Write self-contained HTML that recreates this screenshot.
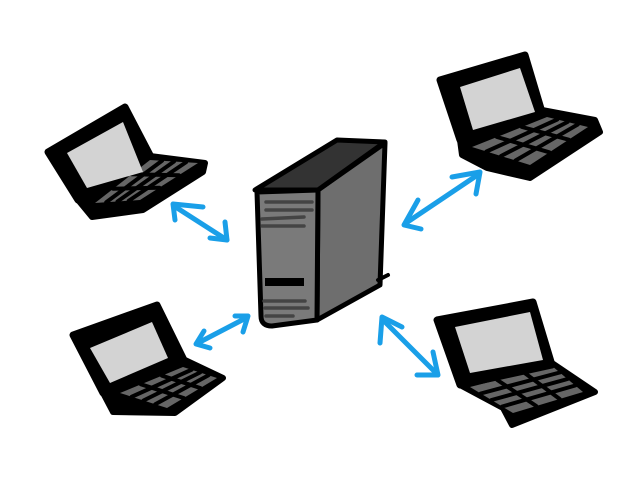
<!DOCTYPE html>
<html><head><meta charset="utf-8"><style>
html,body{margin:0;padding:0;background:#fff;}
svg{display:block;}
</style></head><body>
<svg width="640" height="480" viewBox="0 0 640 480" xmlns="http://www.w3.org/2000/svg">
<rect width="640" height="480" fill="#fff"/>
<g stroke-linejoin="round" stroke-linecap="round">
<!-- Laptop 1 top-left -->
<polygon points="78,200 150,156 205,163 203,172 143,210 92,217" fill="#000" stroke="#000" stroke-width="6"/>
<polygon points="95,203 150,160 198,163 140,200" fill="#666"/>
<g stroke="#000" stroke-width="4">
<line x1="113.3" y1="188.7" x2="159.3" y2="187.7"/><line x1="131.7" y1="174.3" x2="178.7" y2="175.3"/>
<line x1="106.25" y1="202.25" x2="162" y2="160.75"/><line x1="117.5" y1="201.5" x2="174" y2="161.5"/><line x1="128.75" y1="200.75" x2="186" y2="162.25"/>
</g>
<polygon points="48,152 125,107 150,155 78,200" fill="#000" stroke="#000" stroke-width="7"/>
<polygon points="67,153 123,122 143,172 87,188" fill="#d3d3d3"/>

<!-- Laptop 2 top-right -->
<polygon points="460,140 542,110 595,120 600,132 530,178 487,168 462,155" fill="#000" stroke="#000" stroke-width="6"/>
<polygon points="472,147 547,117 588,127 530,165" fill="#666"/>
<g stroke="#000" stroke-width="4">
<line x1="497" y1="137" x2="549.3" y2="152.3"/><line x1="522" y1="127" x2="568.7" y2="139.7"/>
<line x1="486.5" y1="151.5" x2="557.25" y2="119.5"/><line x1="501" y1="156" x2="567.5" y2="122"/><line x1="515.5" y1="160.5" x2="577.75" y2="124.5"/>
</g>
<polygon points="440,80 525,55 542,112 460,140" fill="#000" stroke="#000" stroke-width="7"/>
<polygon points="460,87 520,68 535,112 473,130" fill="#d3d3d3"/>

<!-- Laptop 3 bottom-left -->
<polygon points="103,393 185,360 223,378 175,413 113,412" fill="#000" stroke="#000" stroke-width="6"/>
<polygon points="120,393 183,367 217,378 167,408" fill="#666"/>
<g stroke="#000" stroke-width="4">
<line x1="141" y1="384.3" x2="183.7" y2="398"/><line x1="162" y1="375.7" x2="200.3" y2="388"/>
<line x1="131.75" y1="396.75" x2="191.5" y2="369.75"/><line x1="143.5" y1="400.5" x2="200" y2="372.5"/><line x1="155.25" y1="404.25" x2="208.5" y2="375.25"/>
</g>
<polygon points="73,335 157,305 185,362 103,393" fill="#000" stroke="#000" stroke-width="7"/>
<polygon points="90,348 152,322 168,358 110,383" fill="#d3d3d3"/>

<!-- Laptop 4 bottom-right -->
<polygon points="460,385 552,363 595,392 512,425 503,408" fill="#000" stroke="#000" stroke-width="6"/>
<polygon points="470,387 552,366 583,392 513,413" fill="#666"/>
<g stroke="#000" stroke-width="4">
<line x1="497.3" y1="380" x2="536.3" y2="406"/><line x1="524.7" y1="373" x2="559.7" y2="399"/>
<line x1="480.75" y1="393.5" x2="559.75" y2="372.5"/><line x1="491.5" y1="400" x2="567.5" y2="379"/><line x1="502.25" y1="406.5" x2="575.25" y2="385.5"/>
</g>
<polygon points="437,320 533,302 552,365 460,385" fill="#000" stroke="#000" stroke-width="7"/>
<polygon points="455,327 530,312 543,360 470,373" fill="#d3d3d3"/>

<!-- Server -->
<polygon points="318,190 385,143 380,285 317,320" fill="#6e6e6e" stroke="#000" stroke-width="5"/>
<path d="M257,192 L318,190 L317,320 L272,326 Q261,326 261,316 Z" fill="#7a7a7a" stroke="#000" stroke-width="5"/>
<polygon points="255,190 337,140 385,142 318,190" fill="#333" stroke="#000" stroke-width="5"/>
<line x1="378" y1="280" x2="388" y2="275" stroke="#000" stroke-width="4"/>
<g stroke="#444" stroke-width="3.5">
<line x1="266" y1="202" x2="312" y2="202"/>
<line x1="266" y1="210" x2="312" y2="210"/>
<line x1="262" y1="219" x2="304" y2="217"/>
<line x1="262" y1="226" x2="304" y2="226"/>
<line x1="264" y1="301" x2="305" y2="301"/>
<line x1="265" y1="308" x2="308" y2="308"/>
<line x1="266" y1="316" x2="293" y2="316"/>
</g>
<rect x="265" y="278" width="39" height="8" fill="#000"/>

<!-- Arrows -->
<g stroke="#1a9fe8" stroke-width="5" fill="none">
<line x1="174" y1="206" x2="227" y2="240"/>
<polyline points="175,220 173,204 203,207"/>
<polyline points="225,222 227,240 210,238"/>
<line x1="406" y1="223" x2="479" y2="174"/>
<polyline points="418,200 404,225 421,229"/>
<polyline points="452,177 480,172 476,194"/>
<line x1="198" y1="343" x2="246" y2="318"/>
<polyline points="204,331 196,344 210,348"/>
<polyline points="235,316 248,316 243,332"/>
<line x1="383" y1="320" x2="436" y2="373"/>
<polyline points="380,343 382,317 402,327"/>
<polyline points="433,352 438,375 417,375"/>
</g>
</g>
</svg>
</body></html>
